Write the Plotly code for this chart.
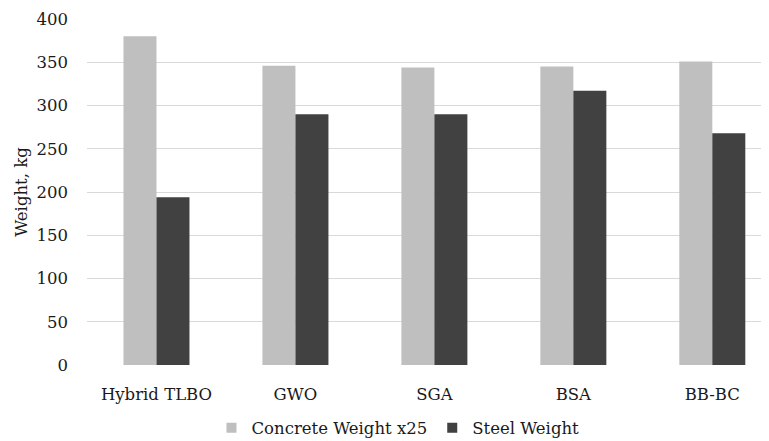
import plotly.graph_objects as go

categories = ["Hybrid TLBO", "GWO", "SGA", "BSA", "BB-BC"]
concrete_x25 = [380, 346, 344, 345, 351]
steel = [194, 290, 290, 317, 268]
y_ticks = [0, 50, 100, 150, 200, 250, 300, 350, 400]

LIGHT = "#BFBFBF"
DARK = "#414141"
FONT = "DejaVu Serif, serif"
TXT = "#1a1a1a"
FS = 16.5

fig = go.Figure()
fig.add_trace(go.Bar(x=categories, y=concrete_x25, name="Concrete Weight x25",
                     marker=dict(color=LIGHT, line=dict(width=0)), showlegend=False))
fig.add_trace(go.Bar(x=categories, y=steel, name="Steel Weight",
                     marker=dict(color=DARK, line=dict(width=0)), showlegend=False))
# legend entries with small square swatches
fig.add_trace(go.Scatter(x=[None], y=[None], mode="markers", name="Concrete Weight x25",
                         marker=dict(symbol="square", size=10, color=LIGHT)))
fig.add_trace(go.Scatter(x=[None], y=[None], mode="markers", name="Steel Weight",
                         marker=dict(symbol="square", size=10, color=DARK)))

# page body has an 8px margin, so the figure is sized to fill the rest of the window
fig.update_layout(
    width=761, height=433,
    margin=dict(l=79, r=0, t=11, b=76, autoexpand=False),
    paper_bgcolor="white", plot_bgcolor="white",
    barmode="group", bargap=0.525, bargroupgap=0,
    font=dict(family=FONT, size=FS, color=TXT),
    xaxis=dict(range=[-0.5, 4.408], showgrid=False, zeroline=False, showline=False,
               ticks="", ticklabelstandoff=17, automargin=False,
               tickfont=dict(family=FONT, size=FS, color=TXT), fixedrange=True),
    yaxis=dict(range=[0, 400], tickvals=y_ticks, showgrid=True, gridcolor="#D9D9D9",
               gridwidth=1.3, zeroline=False, showline=False, ticks="",
               ticklabelstandoff=18, automargin=False,
               tickfont=dict(family=FONT, size=FS, color=TXT),
               title=dict(text="Weight, kg", font=dict(family=FONT, size=FS, color=TXT),
                          standoff=4)),
    legend=dict(orientation="h", x=0.456, xanchor="center", y=-0.182, yanchor="middle",
                font=dict(family=FONT, size=FS, color=TXT), itemwidth=30,
                traceorder="normal", bgcolor="rgba(0,0,0,0)"),
)

fig.write_html("out.html")
